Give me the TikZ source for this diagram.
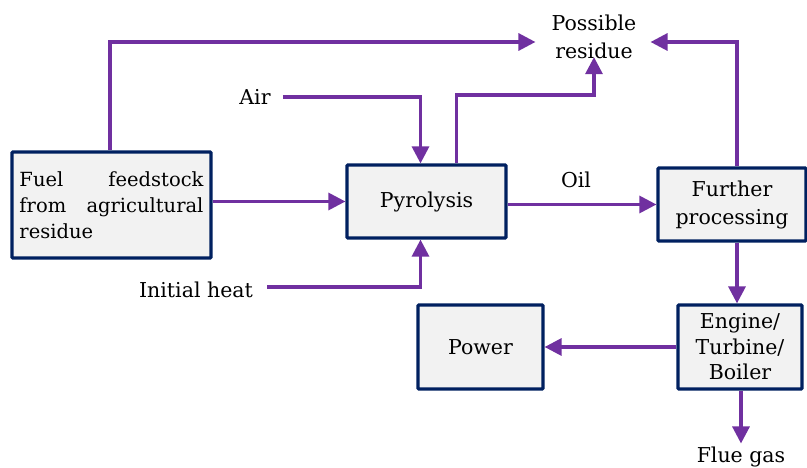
\documentclass[tikz,border=0pt]{standalone}
\usepackage{fontspec}
\setmainfont{DejaVu Serif}
\usetikzlibrary{arrows.meta}
\definecolor{arr}{HTML}{7030A0}
\definecolor{bord}{HTML}{002060}
\definecolor{boxfill}{HTML}{F2F2F2}
\tikzset{
  procbox/.style={draw=bord, line width=3.2pt, fill=boxfill, rounded corners=1pt, inner sep=0pt, align=center, font=\fontsize{20.5}{27}\selectfont},
  lbl/.style={inner sep=0pt, align=center, font=\fontsize{20.5}{28}\selectfont},
  flow/.style={draw=arr, line width=3.2pt, -{Triangle[length=17pt,width=17pt]}},
}
\begin{document}
\begin{tikzpicture}[x=1pt,y=-1pt]
\useasboundingbox (0,0) rectangle (807,468);
\node[procbox, minimum width=199pt, minimum height=106pt] (fuel) at (111.5,205) {};
\node[lbl, text width=184pt, align=left, font=\fontsize{19.5}{26}\selectfont] (fueltxt) at (111.5,205) {\makebox[184pt][s]{Fuel\hfill feedstock}\\\makebox[184pt][s]{from\hfill agricultural}\\residue};
\node[procbox, minimum width=159pt, minimum height=73pt] (pyro) at (426.5,201.5) {Pyrolysis};
\node[procbox, minimum width=148pt, minimum height=73pt, font=\fontsize{20.5}{28}\selectfont] (fp) at (732,204.5) {Further\\processing};
\node[procbox, minimum width=124pt, minimum height=84pt, font=\fontsize{20.5}{25.5}\selectfont] (eng) at (740,347) {Engine/\\Turbine/\\Boiler};
\node[procbox, minimum width=125pt, minimum height=84pt] (pow) at (480.5,347) {Power};
\node[lbl] (res) at (594,37) {Possible\\residue};
\node[lbl] (air) at (255,97) {Air};
\node[lbl] (heat) at (196,290) {Initial heat};
\node[lbl] (oil) at (576,180) {Oil};
\node[lbl, anchor=south] (flue) at (741,467) {Flue gas};
\coordinate (c1) at (110,42);
\coordinate (c2) at (737,42);
\coordinate (c4) at (594,95);
% arrows
\draw[flow] (fuel.east |- pyro) -- (pyro.west);
\draw[flow] (pyro.east |- fp) -- (fp.west);
\draw[flow] ([xshift=12pt]air.east) -| ([xshift=-6pt]pyro.north);
\draw[flow] ([xshift=14pt,yshift=3pt]heat.east) -| ([xshift=-6pt]pyro.south);
\draw[flow] ([xshift=30pt]pyro.north) |- (c4) -- ([yshift=2pt]res.south);
\draw[flow] (fuel.north -| c1) |- ([xshift=-16pt]res.west |- c1);
\draw[flow] (fp.north -| c2) |- ([xshift=14pt]res.east |- c2);
\draw[flow] (fp.south -| c2) -- (eng.north -| c2);
\draw[flow] (eng.west) -- (pow.east);
\draw[flow] (eng.south -| flue) -- ([yshift=3pt]flue.north);
\end{tikzpicture}
\end{document}
